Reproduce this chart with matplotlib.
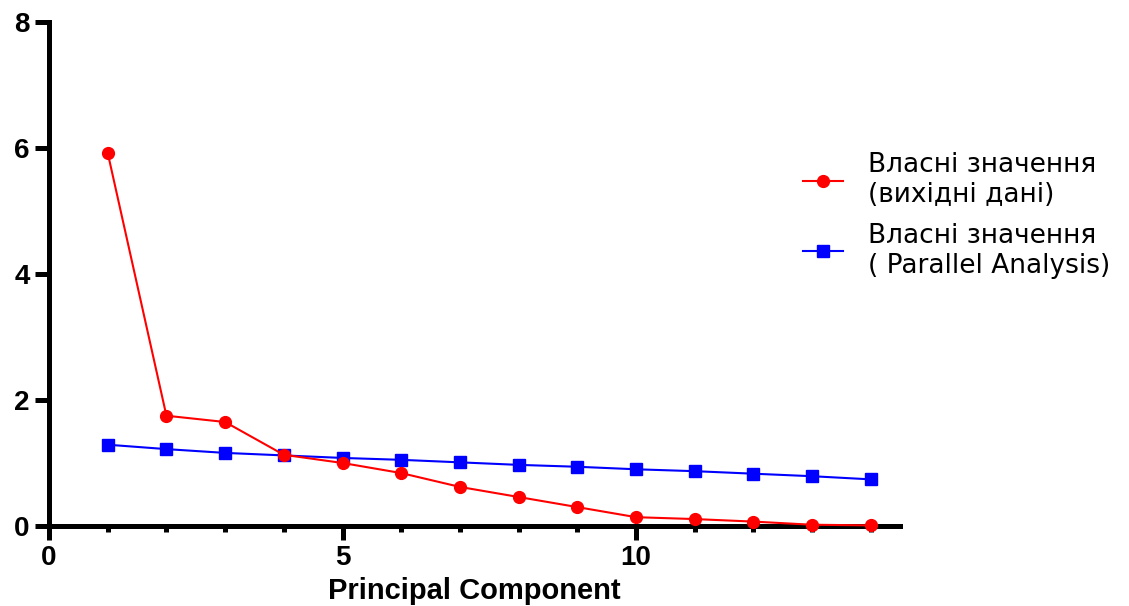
import matplotlib
matplotlib.use("Agg")
import matplotlib.pyplot as plt
from matplotlib.ticker import MultipleLocator

# -----------------------------
# DATA
# -----------------------------
components = [1, 2, 3, 4, 5, 6, 7, 8, 9, 10, 11, 12, 13, 14]
eig_observed = [5.92, 1.75, 1.65, 1.13, 1.00, 0.84, 0.62, 0.46, 0.30, 0.14, 0.11, 0.07, 0.02, 0.01]
eig_parallel = [1.29, 1.22, 1.16, 1.12, 1.08, 1.05, 1.01, 0.97, 0.94, 0.90, 0.87, 0.83, 0.79, 0.74]

label_observed = "Власні значення\n(вихідні дані)"
label_parallel = "Власні значення\n( Parallel Analysis)"
x_label = "Principal Component"

# -----------------------------
# PLOT
# -----------------------------
plt.rcParams["font.family"] = ["Liberation Sans", "DejaVu Sans"]

fig = plt.figure(figsize=(11.29, 6.06), dpi=100)
ax = fig.add_axes([0.0434, 0.132, 0.754, 0.832])

ax.plot(components, eig_observed, color="#ff0000", lw=1.5, marker="o", ms=8.5,
        label=label_observed, clip_on=False, zorder=3)
ax.plot(components, eig_parallel, color="#0000ff", lw=1.5, marker="s", ms=8,
        label=label_parallel, clip_on=False, zorder=2)

ax.set_xlim(0, 14.5)
ax.set_ylim(0, 8)
ax.xaxis.set_major_locator(MultipleLocator(5))
ax.xaxis.set_minor_locator(MultipleLocator(1))
ax.yaxis.set_major_locator(MultipleLocator(2))

for side in ("top", "right"):
    ax.spines[side].set_visible(False)
for side in ("left", "bottom"):
    ax.spines[side].set_linewidth(3.6)

ax.tick_params(axis="both", which="major", width=3.6, length=10, labelsize=20, pad=4)
ax.tick_params(axis="x", which="minor", width=3.6, length=4)
for lab in ax.get_xticklabels() + ax.get_yticklabels():
    lab.set_fontweight("bold")

ax.set_xlabel(x_label, fontsize=21, fontweight="bold", labelpad=4)

fig.legend(loc="upper left", bbox_to_anchor=(0.6906, 0.788), frameon=False,
           prop={"family": "DejaVu Sans", "size": 19},
           handlelength=1.5, handletextpad=0.95, labelspacing=0.55)

fig.savefig("out.png", dpi=100)
